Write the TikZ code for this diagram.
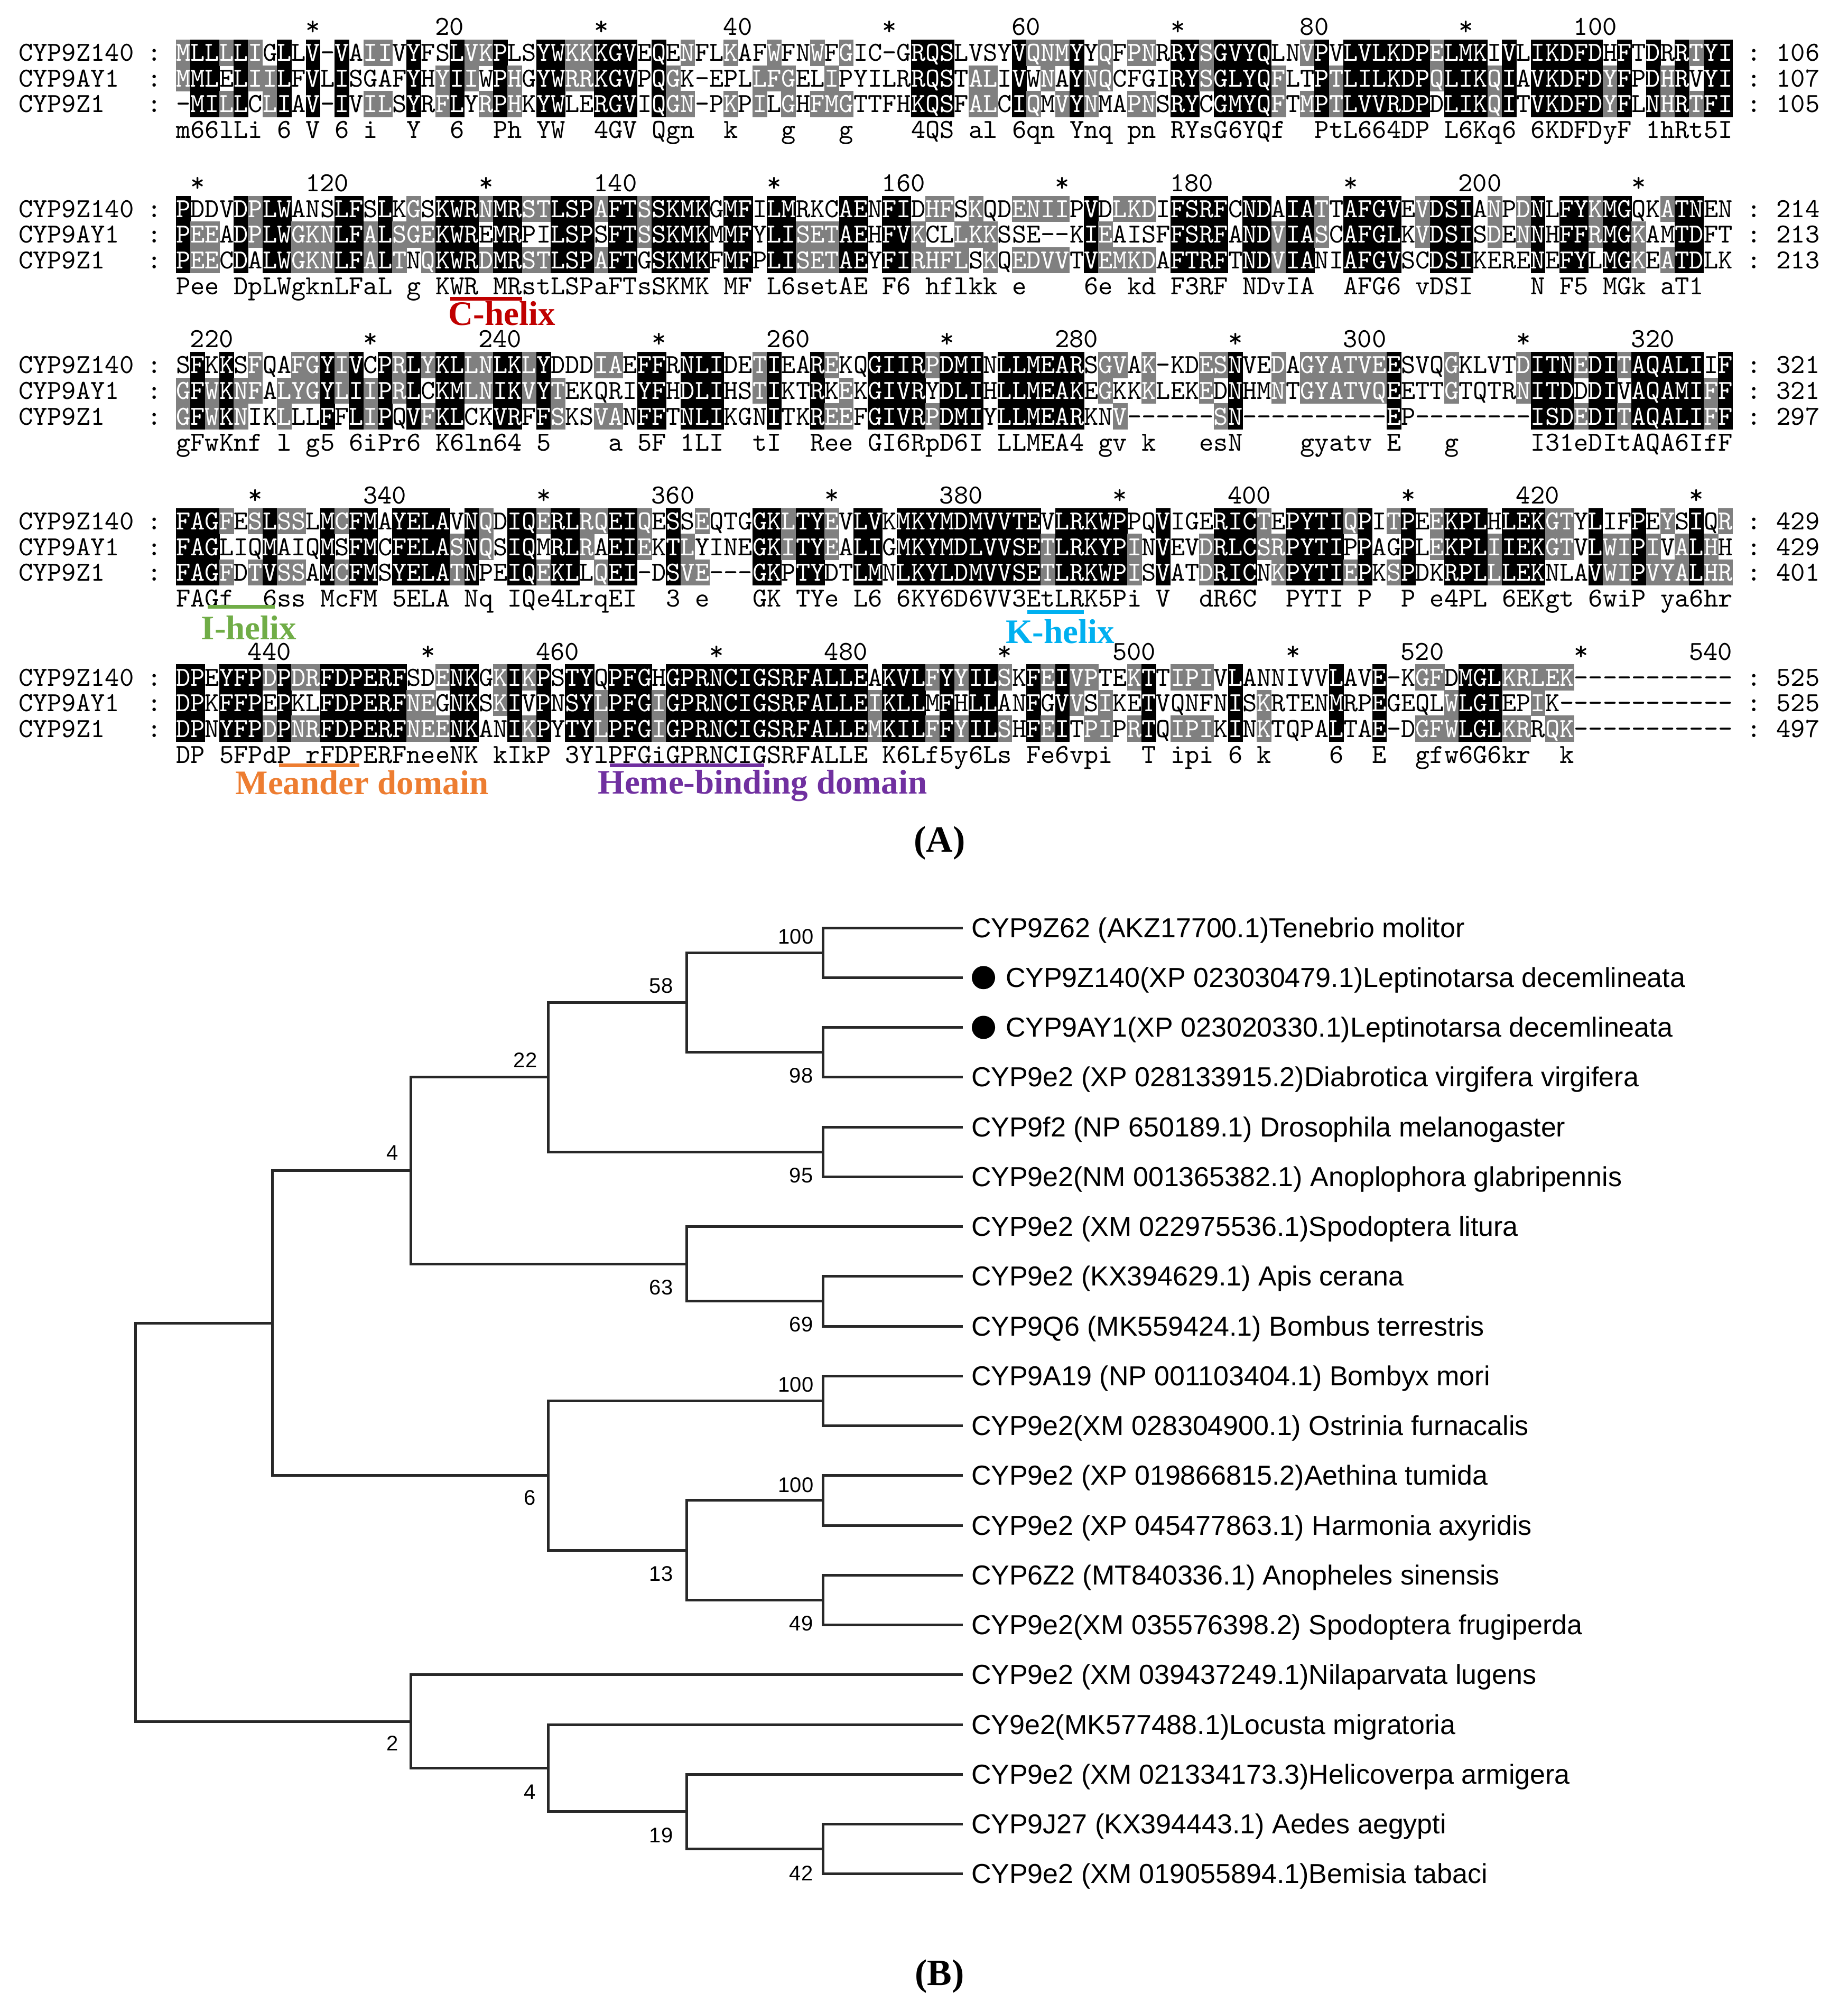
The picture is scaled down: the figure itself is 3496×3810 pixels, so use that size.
\documentclass[tikz,border=0pt]{standalone}
\usepackage{fontspec}
\setmainfont{Liberation Serif}
\setsansfont{Liberation Sans}
\usepackage{xcolor}
\definecolor{chelix}{RGB}{192, 0, 0}
\definecolor{ihelix}{RGB}{112, 173, 71}
\definecolor{khelix}{RGB}{0, 176, 240}
\definecolor{meander}{RGB}{237, 125, 49}
\definecolor{heme}{RGB}{112, 48, 160}
\definecolor{idgray}{RGB}{128, 128, 128}
\definecolor{treeline}{RGB}{40, 40, 40}

\tikzset{
  res/.style = {font=\ttfamily\fontsize{10.4}{11}\selectfont, inner sep=0pt, anchor=base},
  resw/.style = {res, text=white},
  resname/.style = {res, anchor=base west},
  resnum/.style = {res, anchor=base east},
  blackcell/.style = {fill=black},
  graycell/.style = {fill=idgray},
  domlabel/.style = {font=\bfseries\fontsize{13}{15}\selectfont, inner sep=0pt},
  domline/.style = {line width=1.4pt},
  panel/.style = {font=\bfseries\fontsize{14}{16}\selectfont, inner sep=0pt},
  branch/.style = {line width=1pt, draw=treeline},
  leaf/.style = {font=\sffamily\fontsize{10.4}{12}\selectfont, anchor=base west, inner sep=0pt},
  boot/.style = {font=\sffamily\fontsize{8}{9}\selectfont, inner sep=0pt},
  bullet/.style = {circle, fill=black, inner sep=0pt, minimum size=8.8pt},
}

\ExplSyntaxOn
\str_new:N \l_aln_sa_str
\str_new:N \l_aln_sb_str
\str_new:N \l_aln_sc_str
\tl_new:N \l_aln_a_tl
\tl_new:N \l_aln_b_tl
\tl_new:N \l_aln_c_tl
\tl_new:N \l_aln_cons_tl
\tl_new:N \l_aln_xc_tl
\tl_new:N \l_aln_xl_tl
\tl_new:N \l_aln_xr_tl
\tl_new:N \l_aln_yone_tl
\tl_new:N \l_aln_yc_tl
\tl_new:N \l_aln_yt_tl
\tl_new:N \l_aln_yb_tl
\tl_new:N \l_aln_ybase_tl
\int_new:N \l_aln_ga_int
\int_new:N \l_aln_gb_int
\int_new:N \l_aln_gc_int
\int_new:N \l_aln_ka_int
\int_new:N \l_aln_kb_int
\int_new:N \l_aln_kc_int
\int_new:N \l_aln_pos_int
\bool_new:N \l_aln_ab_bool
\bool_new:N \l_aln_ac_bool
\bool_new:N \l_aln_bc_bool

% similarity groups (0 = gap or none)
\cs_new:Npn \aln_group:n #1
  {
    \str_case:nnF {#1}
      {
        {D}{1} {N}{1}
        {E}{2} {Q}{2}
        {S}{3} {T}{3}
        {K}{4} {R}{4}
        {F}{5} {Y}{5} {W}{5}
        {L}{6} {I}{6} {V}{6} {M}{6}
      }
      {0}
  }
\cs_generate_variant:Nn \aln_group:n { V }

\cs_new_protected:Npn \aln_setk:nnn #1#2#3
  {
    \int_set:Nn \l_aln_ka_int {#1}
    \int_set:Nn \l_aln_kb_int {#2}
    \int_set:Nn \l_aln_kc_int {#3}
  }

\cs_new_protected:Npn \aln_lower:N #1
  { \tl_set:Nx \l_aln_cons_tl { \exp_args:NV \str_lowercase:n #1 } }

\cs_new_protected:Npn \aln_similar:
  {
    \bool_if:nTF { \int_compare_p:nNn \l_aln_ga_int > 0 && \int_compare_p:nNn \l_aln_ga_int = \l_aln_gb_int }
      { \aln_setk:nnn 1 1 0 }
      {
        \bool_if:nTF { \int_compare_p:nNn \l_aln_ga_int > 0 && \int_compare_p:nNn \l_aln_ga_int = \l_aln_gc_int }
          { \aln_setk:nnn 1 0 1 }
          {
            \bool_if:nT { \int_compare_p:nNn \l_aln_gb_int > 0 && \int_compare_p:nNn \l_aln_gb_int = \l_aln_gc_int }
              { \aln_setk:nnn 0 1 1 }
          }
      }
  }

% one residue cell: row, shade level, residue
\cs_new_protected:Npn \aln_cell:nNN #1#2#3
  {
    \tl_set:Nx \l_aln_yc_tl { \fp_eval:n { \l_aln_yone_tl + (#1 - 1) * 48.5 } }
    \tl_set:Nx \l_aln_yt_tl { \fp_eval:n { \l_aln_yc_tl - 24.65 } }
    \tl_set:Nx \l_aln_yb_tl { \fp_eval:n { \l_aln_yc_tl + 24.65 } }
    \tl_set:Nx \l_aln_ybase_tl { \fp_eval:n { \l_aln_yc_tl + 16 } }
    \int_case:nn {#2}
      {
        {0}
          { \node[res]~at~(\l_aln_xc_tl,\l_aln_ybase_tl)~{#3}; }
        {1}
          {
            \fill[graycell]~(\l_aln_xl_tl,\l_aln_yt_tl)~rectangle~(\l_aln_xr_tl,\l_aln_yb_tl);
            \node[resw]~at~(\l_aln_xc_tl,\l_aln_ybase_tl)~{#3};
          }
        {2}
          {
            \fill[blackcell]~(\l_aln_xl_tl,\l_aln_yt_tl)~rectangle~(\l_aln_xr_tl,\l_aln_yb_tl);
            \node[resw]~at~(\l_aln_xc_tl,\l_aln_ybase_tl)~{#3};
          }
      }
  }

\cs_new_protected:Npn \aln_column:nn #1#2
  {
    \tl_set:Nx \l_aln_a_tl { \str_item:Nn \l_aln_sa_str {#2} }
    \tl_set:Nx \l_aln_b_tl { \str_item:Nn \l_aln_sb_str {#2} }
    \tl_set:Nx \l_aln_c_tl { \str_item:Nn \l_aln_sc_str {#2} }
    \int_set:Nn \l_aln_ga_int { \aln_group:V \l_aln_a_tl }
    \int_set:Nn \l_aln_gb_int { \aln_group:V \l_aln_b_tl }
    \int_set:Nn \l_aln_gc_int { \aln_group:V \l_aln_c_tl }
    \bool_set:Nn \l_aln_ab_bool
      { ! \str_if_eq_p:Vn \l_aln_a_tl { - } && \str_if_eq_p:VV \l_aln_a_tl \l_aln_b_tl }
    \bool_set:Nn \l_aln_ac_bool
      { ! \str_if_eq_p:Vn \l_aln_a_tl { - } && \str_if_eq_p:VV \l_aln_a_tl \l_aln_c_tl }
    \bool_set:Nn \l_aln_bc_bool
      { ! \str_if_eq_p:Vn \l_aln_b_tl { - } && \str_if_eq_p:VV \l_aln_b_tl \l_aln_c_tl }
    \aln_setk:nnn 0 0 0
    \tl_clear:N \l_aln_cons_tl
    \bool_if:nTF { \l_aln_ab_bool && \l_aln_ac_bool }
      {
        \aln_setk:nnn 2 2 2
        \tl_set_eq:NN \l_aln_cons_tl \l_aln_a_tl
      }
      {
        \bool_if:nTF
          {
            \int_compare_p:nNn \l_aln_ga_int > 0
            && \int_compare_p:nNn \l_aln_ga_int = \l_aln_gb_int
            && \int_compare_p:nNn \l_aln_gb_int = \l_aln_gc_int
          }
          {
            \aln_setk:nnn 2 2 2
            \tl_set:Nx \l_aln_cons_tl { \int_use:N \l_aln_ga_int }
          }
          {
            \bool_if:NTF \l_aln_ab_bool
              { \aln_setk:nnn 1 1 0 \aln_lower:N \l_aln_a_tl }
              {
                \bool_if:NTF \l_aln_ac_bool
                  { \aln_setk:nnn 1 0 1 \aln_lower:N \l_aln_a_tl }
                  {
                    \bool_if:NTF \l_aln_bc_bool
                      { \aln_setk:nnn 0 1 1 \aln_lower:N \l_aln_b_tl }
                      { \aln_similar: }
                  }
              }
          }
      }
    \tl_set:Nx \l_aln_xc_tl { \fp_eval:n { 333.4 + (#2 - 0.5) * 27.27 } }
    \tl_set:Nx \l_aln_xl_tl { \fp_eval:n { 333.4 + (#2 - 1) * 27.27 - 0.3 } }
    \tl_set:Nx \l_aln_xr_tl { \fp_eval:n { 333.4 + (#2) * 27.27 + 0.3 } }
    \aln_cell:nNN 1 \l_aln_ka_int \l_aln_a_tl
    \aln_cell:nNN 2 \l_aln_kb_int \l_aln_b_tl
    \aln_cell:nNN 3 \l_aln_kc_int \l_aln_c_tl
    % consensus line
    \tl_if_empty:NF \l_aln_cons_tl
      {
        \tl_set:Nx \l_aln_ybase_tl { \fp_eval:n { \l_aln_yone_tl + 146 + 16 } }
        \node[res]~at~(\l_aln_xc_tl,\l_aln_ybase_tl)~{\l_aln_cons_tl};
      }
    % ruler
    \int_set:Nn \l_aln_pos_int { 108 * (#1) + (#2) }
    \tl_set:Nx \l_aln_ybase_tl { \fp_eval:n { \l_aln_yone_tl - 49 + 16 } }
    \int_compare:nNnTF { \int_mod:nn { \l_aln_pos_int } { 20 } } = 0
      { \node[resnum]~at~(\l_aln_xr_tl,\l_aln_ybase_tl)~{\int_use:N \l_aln_pos_int}; }
      {
        \int_compare:nNnT { \int_mod:nn { \l_aln_pos_int } { 10 } } = 0
          { \node[res]~at~(\l_aln_xc_tl,\l_aln_ybase_tl)~{*}; }
      }
  }

\cs_new_protected:Npn \aln_label:nnn #1#2#3
  {
    \tl_set:Nx \l_aln_ybase_tl { \fp_eval:n { \l_aln_yone_tl + (#1 - 1) * 48.5 + 16 } }
    \node[resname]~at~(34,\l_aln_ybase_tl)~{#2};
    \node[res]~at~(292.5,\l_aln_ybase_tl)~{:};
    \node[res]~at~(3319.5,\l_aln_ybase_tl)~{:};
    \node[resname]~at~(3360.4,\l_aln_ybase_tl)~{#3};
  }

% block index, three rows, three end counts
\NewDocumentCommand \alignblock { m m m m m m m }
  {
    \str_set:Nn \l_aln_sa_str {#2}
    \str_set:Nn \l_aln_sb_str {#3}
    \str_set:Nn \l_aln_sc_str {#4}
    \tl_set:Nx \l_aln_yone_tl { \fp_eval:n { 100 + 295.5 * (#1) } }
    \int_step_inline:nnn { 1 } { 108 } { \aln_column:nn {#1} {##1} }
    \aln_label:nnn {1} {CYP9Z140} {#5}
    \aln_label:nnn {2} {CYP9AY1} {#6}
    \aln_label:nnn {3} {CYP9Z1} {#7}
  }
\ExplSyntaxOff

\begin{document}
\begin{tikzpicture}[x=0.2pt, y=-0.2pt]
\useasboundingbox (0,0) rectangle (3496,3810);

% (A) alignment
\alignblock{0}
  {MLLLLIGLLV-VAIIVYFSLVKPLSYWKKKGVEQENFLKAFWFNWFGIC-GRQSLVSYVQNMYYQFPNRRYSGVYQLNVPVLVLKDPELMKIVLIKDFDHFTDRRTYI}
  {MMLELIILFVLISGAFYHYIIWPHGYWRRKGVPQGK-EPLLFGELIPYILRRQSTALIVWNAYNQCFGIRYSGLYQFLTPTLILKDPQLIKQIAVKDFDYFPDHRVYI}
  {-MILLCLIAV-IVILSYRFLYRPHKYWLERGVIQGN-PKPILGHFMGTTFHKQSFALCIQMVYNMAPNSRYCGMYQFTMPTLVVRDPDLIKQITVKDFDYFLNHRTFI}
  {106}{107}{105}
\alignblock{1}
  {PDDVDPLWANSLFSLKGSKWRNMRSTLSPAFTSSKMKGMFILMRKCAENFIDHFSKQDENIIPVDLKDIFSRFCNDAIATTAFGVEVDSIANPDNLFYKMGQKATNEN}
  {PEEADPLWGKNLFALSGEKWREMRPILSPSFTSSKMKMMFYLISETAEHFVKCLLKKSSE--KIEAISFFSRFANDVIASCAFGLKVDSISDENNHFFRMGKAMTDFT}
  {PEECDALWGKNLFALTNQKWRDMRSTLSPAFTGSKMKFMFPLISETAEYFIRHFLSKQEDVVTVEMKDAFTRFTNDVIANIAFGVSCDSIKERENEFYLMGKEATDLK}
  {214}{213}{213}
\alignblock{2}
  {SFKKSFQAFGYIVCPRLYKLLNLKLYDDDIAEFFRNLIDETIEAREKQGIIRPDMINLLMEARSGVAK-KDESNVEDAGYATVEESVQGKLVTDITNEDITAQALIIF}
  {GFWKNFALYGYLIIPRLCKMLNIKVYTEKQRIYFHDLIHSTIKTRKEKGIVRYDLIHLLMEAKEGKKKLEKEDNHMNTGYATVQEETTGTQTRNITDDDIVAQAMIFF}
  {GFWKNIKLLLFFLIPQVFKLCKVRFFSKSVANFFTNLIKGNITKREEFGIVRPDMIYLLMEARKNV------SN----------EP--------ISDEDITAQALIFF}
  {321}{321}{297}
\alignblock{3}
  {FAGFESLSSLMCFMAYELAVNQDIQERLRQEIQESSEQTGGKLTYEVLVKMKYMDMVVTEVLRKWPPQVIGERICTEPYTIQPITPEEKPLHLEKGTYLIFPEYSIQR}
  {FAGLIQMAIQMSFMCFELASNQSIQMRLRAEIEKTLYINEGKITYEALIGMKYMDLVVSETLRKYPINVEVDRLCSRPYTIPPAGPLEKPLIIEKGTVLWIPIVALHH}
  {FAGFDTVSSAMCFMSYELATNPEIQEKLLQEI-DSVE---GKPTYDTLMNLKYLDMVVSETLRKWPISVATDRICNKPYTIEPKSPDKRPLLLEKNLAVWIPVYALHR}
  {429}{429}{401}
\alignblock{4}
  {DPEYFPDPDRFDPERFSDENKGKIKPSTYQPFGHGPRNCIGSRFALLEAKVLFYYILSKFEIVPTEKTTIPIVLANNIVVLAVE-KGFDMGLKRLEK-----------}
  {DPKFFPEPKLFDPERFNEGNKSKIVPNSYLPFGIGPRNCIGSRFALLEIKLLMFHLLANFGVVSIKETVQNFNISKRTENMRPEGEQLWLGIEPIK------------}
  {DPNYFPDPNRFDPERFNEENKANIKPYTYLPFGIGPRNCIGSRFALLEMKILFFYILSHFEITPIPRTQIPIKINKTQPALTAE-DGFWLGLKRRQK-----------}
  {525}{525}{497}

% domain marks
\draw[domline, chelix] (851.5,566) -- (987.9,566);
\node[domlabel, text=chelix] (chelix) at (950,593) {C-helix};
\draw[domline, ihelix] (393,1148) -- (520,1148);
\node[domlabel, text=ihelix] (ihelix) at (471,1188) {I-helix};
\draw[domline, khelix] (1944,1158) -- (2051,1158);
\node[domlabel, text=khelix] (khelix) at (2006,1195) {K-helix};
\draw[domline, meander] (528,1448) -- (680,1448);
\node[domlabel, text=meander] (meander) at (685,1481) {Meander domain};
\draw[domline, heme] (1154,1448) -- (1446,1448);
\node[domlabel, text=heme] (heme) at (1443,1487) {Heme-binding domain};
\node[panel] (pa) at (1778,1596) {(A)};

% (B) tree: leaf ends
\coordinate (l1) at (1822,1756);
\coordinate (l2) at (1822,1850.25);
\coordinate (l3) at (1822,1944.5);
\coordinate (l4) at (1822,2038.75);
\coordinate (l5) at (1822,2133);
\coordinate (l6) at (1822,2227.25);
\coordinate (l7) at (1822,2321.5);
\coordinate (l8) at (1822,2415.75);
\coordinate (l9) at (1822,2510);
\coordinate (l10) at (1822,2604.25);
\coordinate (l11) at (1822,2698.5);
\coordinate (l12) at (1822,2792.75);
\coordinate (l13) at (1822,2887);
\coordinate (l14) at (1822,2981.25);
\coordinate (l15) at (1822,3075.5);
\coordinate (l16) at (1822,3169.75);
\coordinate (l17) at (1822,3264);
\coordinate (l18) at (1822,3358.25);
\coordinate (l19) at (1822,3452.5);
\coordinate (l20) at (1822,3546.75);

% leaf labels
\node[leaf] (t1) at (1837,1774) {CYP9Z62 (AKZ17700.1)Tenebrio molitor};
\node[bullet] (d2) at (1861,1850.25) {};
\node[leaf] (t2) at (1902,1868.25) {CYP9Z140(XP 023030479.1)Leptinotarsa decemlineata};
\node[bullet] (d3) at (1861,1944.5) {};
\node[leaf] (t3) at (1902,1962.5) {CYP9AY1(XP 023020330.1)Leptinotarsa decemlineata};
\node[leaf] (t4) at (1837,2056.75) {CYP9e2 (XP 028133915.2)Diabrotica virgifera virgifera};
\node[leaf] (t5) at (1837,2151) {CYP9f2 (NP 650189.1) Drosophila melanogaster};
\node[leaf] (t6) at (1837,2245.25) {CYP9e2(NM 001365382.1) Anoplophora glabripennis};
\node[leaf] (t7) at (1837,2339.5) {CYP9e2 (XM 022975536.1)Spodoptera litura};
\node[leaf] (t8) at (1837,2433.75) {CYP9e2 (KX394629.1) Apis cerana};
\node[leaf] (t9) at (1837,2528) {CYP9Q6 (MK559424.1) Bombus terrestris};
\node[leaf] (t10) at (1837,2622.25) {CYP9A19 (NP 001103404.1) Bombyx mori};
\node[leaf] (t11) at (1837,2716.5) {CYP9e2(XM 028304900.1) Ostrinia furnacalis};
\node[leaf] (t12) at (1837,2810.75) {CYP9e2 (XP 019866815.2)Aethina tumida};
\node[leaf] (t13) at (1837,2905) {CYP9e2 (XP 045477863.1) Harmonia axyridis};
\node[leaf] (t14) at (1837,2999.25) {CYP6Z2 (MT840336.1) Anopheles sinensis};
\node[leaf] (t15) at (1837,3093.5) {CYP9e2(XM 035576398.2) Spodoptera frugiperda};
\node[leaf] (t16) at (1837,3187.75) {CYP9e2 (XM 039437249.1)Nilaparvata lugens};
\node[leaf] (t17) at (1837,3282) {CY9e2(MK577488.1)Locusta migratoria};
\node[leaf] (t18) at (1837,3376.25) {CYP9e2 (XM 021334173.3)Helicoverpa armigera};
\node[leaf] (t19) at (1837,3470.5) {CYP9J27 (KX394443.1) Aedes aegypti};
\node[leaf] (t20) at (1837,3564.75) {CYP9e2 (XM 019055894.1)Bemisia tabaci};

% internal nodes
\coordinate (nA) at (1557,1803.1);
\coordinate (nB) at (1557,1991.6);
\coordinate (nAB) at (1299,1897.4);
\coordinate (nC) at (1557,2180.1);
\coordinate (nABC) at (1037,2038.8);
\coordinate (nD) at (1557,2462.9);
\coordinate (nE) at (1299,2392.2);
\coordinate (nF) at (777,2215.5);
\coordinate (nG) at (1557,2651.4);
\coordinate (nH) at (1557,2839.9);
\coordinate (nI) at (1557,3028.4);
\coordinate (nJ) at (1299,2934.1);
\coordinate (nK) at (1037,2792.8);
\coordinate (nL) at (515,2504.1);
\coordinate (nM) at (1557,3499.6);
\coordinate (nN) at (1299,3428.9);
\coordinate (nO) at (1037,3346.5);
\coordinate (nP) at (777,3258.1);
\coordinate (root) at (256,2881.1);

% branches
\draw[branch] (l1) -| (nA) |- (l2);
\draw[branch] (l3) -| (nB) |- (l4);
\draw[branch] (nA) -| (nAB) |- (nB);
\draw[branch] (l5) -| (nC) |- (l6);
\draw[branch] (nAB) -| (nABC) |- (nC);
\draw[branch] (l8) -| (nD) |- (l9);
\draw[branch] (l7) -| (nE) |- (nD);
\draw[branch] (nABC) -| (nF) |- (nE);
\draw[branch] (l10) -| (nG) |- (l11);
\draw[branch] (l12) -| (nH) |- (l13);
\draw[branch] (l14) -| (nI) |- (l15);
\draw[branch] (nH) -| (nJ) |- (nI);
\draw[branch] (nG) -| (nK) |- (nJ);
\draw[branch] (nF) -| (nL) |- (nK);
\draw[branch] (l19) -| (nM) |- (l20);
\draw[branch] (l18) -| (nN) |- (nM);
\draw[branch] (l17) -| (nO) |- (nN);
\draw[branch] (l16) -| (nP) |- (nO);
\draw[branch] (nL) -| (root) |- (nP);

% bootstrap values
\node[boot] (b1) at (1506,1773) {100};
\node[boot] (b2) at (1251,1866) {58};
\node[boot] (b3) at (1516,2036) {98};
\node[boot] (b4) at (994,2007) {22};
\node[boot] (b5) at (1516,2225) {95};
\node[boot] (b6) at (743,2182) {4};
\node[boot] (b7) at (1251,2437) {63};
\node[boot] (b8) at (1516,2507) {69};
\node[boot] (b9) at (1506,2621) {100};
\node[boot] (b10) at (1003,2835) {6};
\node[boot] (b11) at (1506,2811) {100};
\node[boot] (b12) at (1251,2979) {13};
\node[boot] (b13) at (1516,3073) {49};
\node[boot] (b14) at (743,3299) {2};
\node[boot] (b15) at (1003,3392) {4};
\node[boot] (b16) at (1251,3474) {19};
\node[boot] (b17) at (1516,3545) {42};
\node[panel] (pb) at (1778,3741) {(B)};
\end{tikzpicture}
\end{document}
